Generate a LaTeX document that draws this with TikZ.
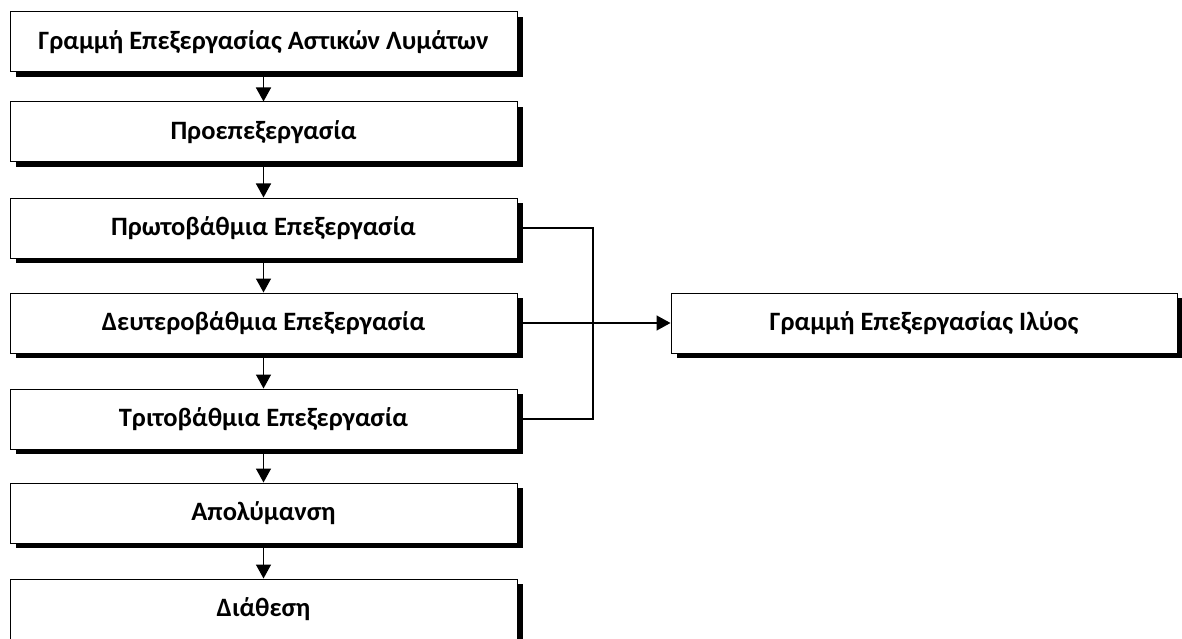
\documentclass[tikz,border=0pt]{standalone}
\usepackage{fontspec}
\setmainfont{Carlito}
\usetikzlibrary{arrows.meta,shadows}
\begin{document}
\begin{tikzpicture}[x=1pt,y=-1pt,
  stage/.style={rectangle, draw=black, line width=1pt, fill=white,
    minimum width=507pt, minimum height=60pt, inner sep=0pt,
    font=\fontsize{26.5}{30}\selectfont\bfseries,
    drop shadow={shadow xshift=5.5pt, shadow yshift=-5pt, fill=black, opacity=1}},
  flow/.style={line width=1.5pt, -{Triangle[length=14pt,width=15pt]}},
  link/.style={line width=1.5pt}]
\useasboundingbox (0,0) rectangle (1182,639);
% main treatment line
\node[stage] (b1) at (263.5,42)  {Γραμμή Επεξεργασίας Αστικών Λυμάτων};
\node[stage] (b2) at (263.5,132) {Προεπεξεργασία};
\node[stage] (b3) at (263.5,228) {Πρωτοβάθμια Επεξεργασία};
\node[stage] (b4) at (263.5,323) {Δευτεροβάθμια Επεξεργασία};
\node[stage] (b5) at (263.5,419) {Τριτοβάθμια Επεξεργασία};
\node[stage] (b6) at (263.5,513) {Απολύμανση};
\node[stage] (b7) at (263.5,609) {Διάθεση};
% sludge line
\node[stage, minimum width=506pt] (sl) at (924,323) {Γραμμή Επεξεργασίας Ιλύος};
% vertical flow
\draw[flow] (b1) -- (b2);
\draw[flow] (b2) -- (b3);
\draw[flow] (b3) -- (b4);
\draw[flow] (b4) -- (b5);
\draw[flow] (b5) -- (b6);
\draw[flow] (b6) -- (b7);
% collector towards the sludge line
\coordinate (bus) at (593,323);
\draw[link] (b3.east) -| (bus) |- (b5.east);
\draw[flow] (b4.east) -- (sl.west);
\end{tikzpicture}
\end{document}
